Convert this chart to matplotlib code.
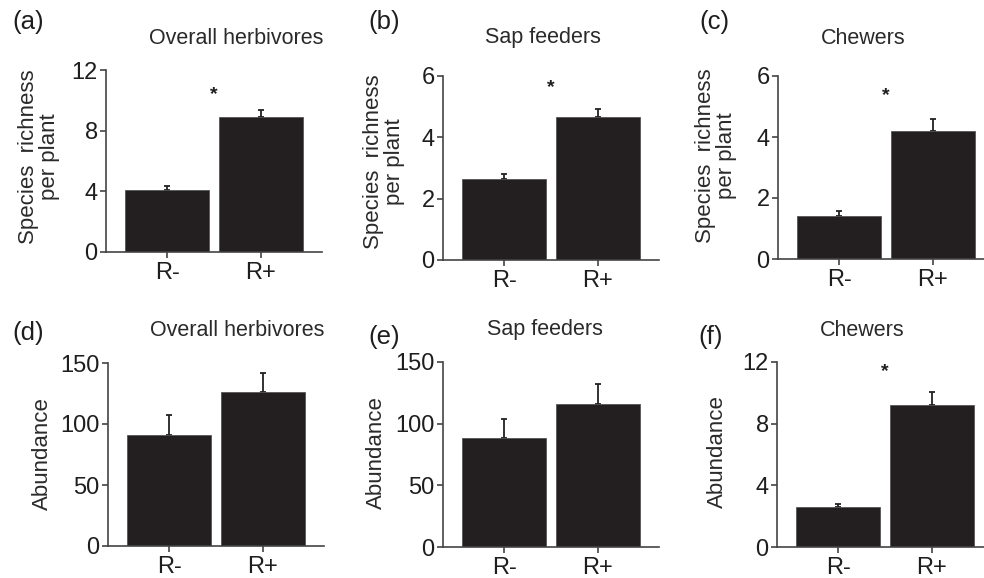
import matplotlib
matplotlib.use("Agg")
from matplotlib import pyplot as plt

plt.rc('font', family=['Liberation Sans', 'DejaVu Sans'])

groups = ["R-", "R+"]

# 每个小图的数据：均值、标准误、星号位置
mean_a = [4.1, 8.9]
err_a = [0.25, 0.45]
mean_b = [2.65, 4.67]
err_b = [0.17, 0.26]
mean_c = [1.42, 4.2]
err_c = [0.16, 0.39]
mean_d = [91, 126]
err_d = [16, 16]
mean_e = [88, 116]
err_e = [16, 16]
mean_f = [2.6, 9.23]
err_f = [0.21, 0.82]

star_a = 10.4
star_b = 5.63
star_c = 5.35
star_f = 11.35

ticks_a = [0, 4, 8, 12]
ticks_b = [0, 2, 4, 6]
ticks_c = [0, 2, 4, 6]
ticks_d = [0, 50, 100, 150]
ticks_e = [0, 50, 100, 150]
ticks_f = [0, 4, 8, 12]

titles = ["Overall herbivores", "Sap feeders", "Chewers",
          "Overall herbivores", "Sap feeders", "Chewers"]
letters = ["(a)", "(b)", "(c)", "(d)", "(e)", "(f)"]
ylab_rich = "Species  richness\nper plant"
ylab_abun = "Abundance"

W, H = 984, 578
fig = plt.figure(figsize=(W / 100, H / 100), dpi=100)

# 坐标轴位置（像素：左, 上(顶刻度), 下(0刻度)）
boxes = [(106, 70, 252), (443, 76, 260), (778, 76, 259),
         (108, 363, 546), (443, 362, 547), (777, 362, 547)]
width_px = 216

panels = [(mean_a, err_a, ticks_a, star_a), (mean_b, err_b, ticks_b, star_b),
          (mean_c, err_c, ticks_c, star_c), (mean_d, err_d, ticks_d, None),
          (mean_e, err_e, ticks_e, None), (mean_f, err_f, ticks_f, star_f)]

title_pos = [(236, 38), (543, 38), (863, 38), (237, 330), (545, 330), (862, 330)]
letter_pos = [(28, 22), (384, 22), (714, 22), (28, 333), (384, 337), (711, 337)]
ylab_pos = [(39, 157), (384, 162), (716, 156), (42, 454), (376, 453), (717, 452)]
ylabs = [ylab_rich, ylab_rich, ylab_rich, ylab_abun, ylab_abun, ylab_abun]

spine_col = "#444444"
bar_col = "#231f20"
text_col = "#1e1e1e"

for i, (m, e, t, s) in enumerate(panels):
    left, top, bottom = boxes[i]
    ax = fig.add_axes([left / W, 1 - bottom / H, width_px / W, (bottom - top) / H])
    x = range(len(groups))
    ax.bar(x, m, width=0.9, color=bar_col, edgecolor="#555555", linewidth=0.6, zorder=2)
    ax.errorbar(x, m, yerr=[[0, 0], e], fmt="none", ecolor="#222222",
                elinewidth=1.3, capsize=2.5, capthick=1.3, zorder=1)
    if s is not None:
        ax.text(0.5, s, "*", ha="center", va="center", fontsize=14,
                fontweight="bold", color=text_col)
    ax.set_xlim(-0.65, 1.65)
    ax.set_ylim(0, t[-1])
    ax.set_yticks(t)
    ax.set_xticks(list(x))
    ax.set_xticklabels(groups)
    for side in ["top", "right"]:
        ax.spines[side].set_visible(False)
    for side in ["left", "bottom"]:
        ax.spines[side].set_color(spine_col)
        ax.spines[side].set_linewidth(1.2)
    ax.tick_params(axis="both", direction="out", length=4.5, width=1.2,
                   color=spine_col, labelsize=17, labelcolor=text_col, pad=1.5)
    ax.tick_params(axis="x", pad=3)

    tx, ty = title_pos[i]
    fig.text(tx / W, 1 - ty / H, titles[i], ha="center", va="center",
             fontsize=15.5, color="#2a2a2a")
    lx, ly = letter_pos[i]
    fig.text(lx / W, 1 - ly / H, letters[i], ha="center", va="center",
             fontsize=18.5, color=text_col)
    yx, yy = ylab_pos[i]
    fig.text(yx / W, 1 - yy / H, ylabs[i], ha="center", va="center",
             rotation=90, multialignment="center", fontsize=16,
             color="#2a2a2a", linespacing=1.0)

fig.savefig("out.png", dpi=100)
